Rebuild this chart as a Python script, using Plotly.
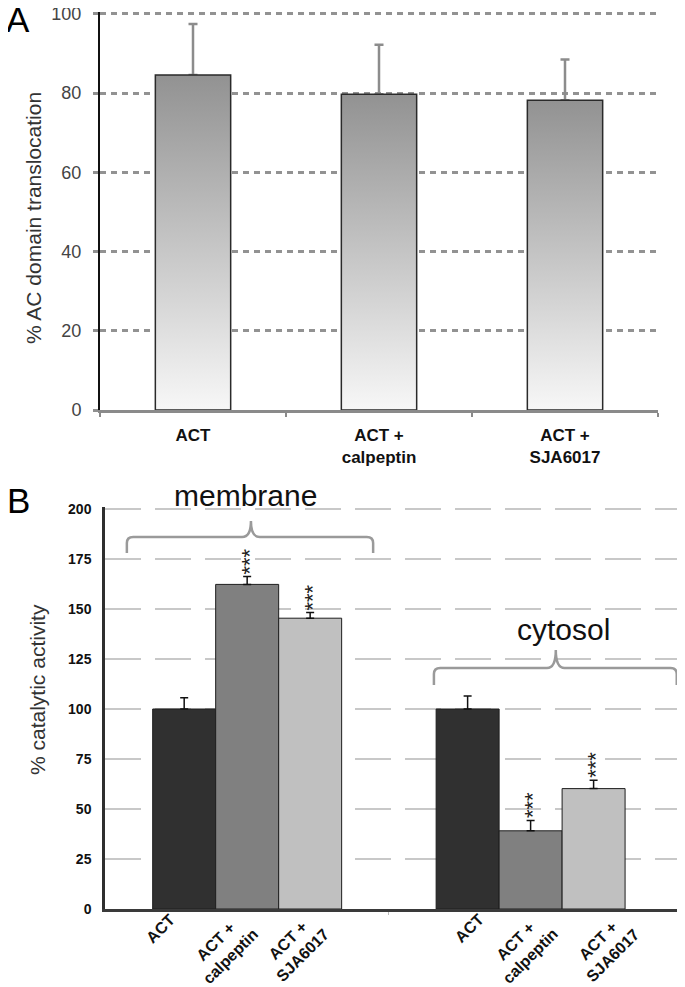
import plotly.graph_objects as go

# the page body puts the figure 8px in from the top-left corner of the window
PAGE_W, PAGE_H, BODY = 685, 987, 8
W, H = PAGE_W - BODY, PAGE_H - BODY
FONT = "Liberation Sans, Arial, sans-serif"

# ---- panel A data ----
a_labels = ["ACT", "ACT +<br>calpeptin", "ACT +<br>SJA6017"]
a_values = [84.6, 79.7, 78.2]
a_errors = [12.9, 12.5, 10.3]

# ---- panel B data ----
b_groups = ["membrane", "cytosol"]
b_treatments = ["ACT", "ACT +<br>calpeptin", "ACT +<br>SJA6017"]
b_colors = ["#303030", "#808080", "#c0c0c0"]
b_membrane = [100, 162.3, 145.4]
b_membrane_err = [5.6, 4.0, 2.9]
b_cytosol = [100, 39.1, 60.2]
b_cytosol_err = [6.5, 5.2, 4.2]
b_stars = ["", "***", "***"]


def px_x(p):
    return min(1.0, max(0.0, (p - BODY) / W))


def px_y(p):
    return min(1.0, max(0.0, 1 - (p - BODY) / H))


fig = go.Figure()

# ---------------- panel A ----------------
A_BAR_W = 0.405
a_x = list(range(len(a_labels)))

# error bars (transparent bars carry them)
fig.add_trace(go.Bar(
    x=a_x, y=a_values, width=A_BAR_W,
    marker=dict(color="rgba(0,0,0,0)", line=dict(width=0)),
    error_y=dict(type="data", symmetric=False, array=a_errors,
                 arrayminus=[0] * len(a_values),
                 color="#8c8c8c", thickness=2.5, width=4.5),
    xaxis="x", yaxis="y", showlegend=False, hoverinfo="skip",
))

# gradient-filled bars
for xi, v in zip(a_x, a_values):
    x0, x1 = xi - A_BAR_W / 2, xi + A_BAR_W / 2
    fig.add_trace(go.Scatter(
        x=[x0, x0, x1, x1, x0], y=[0, v, v, 0, 0],
        mode="lines", fill="toself",
        fillgradient=dict(type="vertical",
                          colorscale=[[0, "#f7f7f7"], [1, "#929292"]]),
        line=dict(color="#2a2a2a", width=1.5),
        xaxis="x", yaxis="y", showlegend=False, hoverinfo="skip",
    ))

# ---------------- panel B ----------------
GROUP_STEP = 4.5
for i, (name, col) in enumerate(zip(b_treatments, b_colors)):
    vals = [b_membrane[i], b_cytosol[i]]
    errs = [b_membrane_err[i], b_cytosol_err[i]]
    xs = [g * GROUP_STEP + i for g in range(len(b_groups))]
    fig.add_trace(go.Bar(
        x=xs, y=vals, width=1.0, name=name,
        marker=dict(color=col, line=dict(color="#1e1e1e", width=1)),
        error_y=dict(type="data", symmetric=False, array=errs,
                     arrayminus=[0, 0], color="#111111",
                     thickness=1.5, width=4),
        xaxis="x2", yaxis="y2", showlegend=False,
    ))

# significance stars
for g, (vals, errs) in enumerate([(b_membrane, b_membrane_err),
                                  (b_cytosol, b_cytosol_err)]):
    for i, s in enumerate(b_stars):
        if not s:
            continue
        fig.add_annotation(
            x=g * GROUP_STEP + i, y=vals[i] + errs[i], xref="x2", yref="y2",
            text=s, textangle=-90, showarrow=False,
            xanchor="center", yanchor="bottom", xshift=2, yshift=0,
            font=dict(family=FONT, size=22, color="#222222"),
        )

# rotated category labels under panel B (centred lines, like the original)
b_label_shift = [[-3, 17, 25], [22, 33, 52]]
for g in range(len(b_groups)):
    for i, lab in enumerate(b_treatments):
        fig.add_annotation(
            x=g * GROUP_STEP + i, y=0, xref="x2", yref="y2",
            text=lab, textangle=-45, showarrow=False, align="center",
            xanchor="right", yanchor="top",
            xshift=b_label_shift[g][i], yshift=1,
            font=dict(family=FONT, size=16, color="#111111", weight="bold"),
        )


# braces over the groups
def brace(x0, x1, xm, y_line, y_end, y_tip, dx=0.1, dy=3.0):
    return (f"M {x0} {y_end} L {x0} {y_line - dy} "
            f"Q {x0} {y_line} {x0 + dx} {y_line} "
            f"L {xm - 1.4 * dx} {y_line} "
            f"Q {xm} {y_line} {xm} {y_tip} "
            f"Q {xm} {y_line} {xm + 1.4 * dx} {y_line} "
            f"L {x1 - dx} {y_line} "
            f"Q {x1} {y_line} {x1} {y_line - dy} L {x1} {y_end}")


brace_style = dict(type="path", xref="x2", yref="y2",
                   line=dict(color="#9a9a9a", width=2.5))
fig.add_shape(path=brace(-0.91, 3.0, 1.06, 186, 178, 194), **brace_style)
fig.add_shape(path=brace(3.965, 7.82, 5.9, 120.5, 112, 129.5), **brace_style)

fig.add_annotation(x=0.98, y=197.5, xref="x2", yref="y2", text="membrane",
                   showarrow=False, xanchor="center", yanchor="bottom",
                   font=dict(family=FONT, size=30, color="#111111"))
fig.add_annotation(x=6.03, y=130.5, xref="x2", yref="y2", text="cytosol",
                   showarrow=False, xanchor="center", yanchor="bottom",
                   font=dict(family=FONT, size=30, color="#111111"))

# panel letters and axis titles
for txt, x, y in [("A", 18, 20), ("B", 18, 501)]:
    fig.add_annotation(x=px_x(x), y=px_y(y), xref="paper", yref="paper",
                       text=txt, showarrow=False, xanchor="center",
                       yanchor="middle",
                       font=dict(family=FONT, size=35, color="#000000"))
for txt, x, y in [("% AC domain translocation", 33, 218),
                  ("% catalytic activity", 37, 690)]:
    fig.add_annotation(x=px_x(x), y=px_y(y), xref="paper", yref="paper",
                       text=txt, showarrow=False, textangle=-90,
                       xanchor="center", yanchor="middle",
                       font=dict(family=FONT, size=21, color="#333333"))

fig.update_layout(
    width=W, height=H,
    margin=dict(l=0, r=0, t=0, b=0),
    paper_bgcolor="white", plot_bgcolor="white",
    barmode="overlay", showlegend=False,
    font=dict(family=FONT),
    xaxis=dict(
        domain=[px_x(100), px_x(658)], range=[-0.5, 2.5],
        tickvals=a_x, ticktext=a_labels, ticks="",
        tickfont=dict(family=FONT, size=17, color="#111111", weight="bold"),
        showline=True, linecolor="#8a8a8a", linewidth=2.5,
        showgrid=False, zeroline=False, ticklabelstandoff=8,
        minor=dict(tickvals=[-0.5, 0.5, 1.5, 2.5], ticks="outside",
                   ticklen=4, tickcolor="#8a8a8a", tickwidth=2),
        automargin=False, anchor="y",
    ),
    yaxis=dict(
        domain=[px_y(410), px_y(12)], range=[0, 100.5],
        tickvals=[0, 20, 40, 60, 80, 100],
        tickfont=dict(family=FONT, size=18, color="#444444"),
        ticks="outside", ticklen=5, tickcolor="#909090", tickwidth=3,
        ticklabelstandoff=8, ticklabeloverflow="allow",
        showline=True, linecolor="#111111", linewidth=2,
        showgrid=True, gridcolor="#929292", gridwidth=3, griddash="6px,5px",
        zeroline=False, automargin=False, anchor="x",
    ),
    xaxis2=dict(
        domain=[px_x(105), px_x(678)], range=[-1.257, 7.84],
        tickvals=[], showticklabels=False, ticks="",
        showline=True, linecolor="#3a3a3a", linewidth=2.5,
        showgrid=False, zeroline=False,
        minor=dict(tickvals=[3.25], ticks="outside", ticklen=3,
                   tickcolor="#bbbbbb", tickwidth=1),
        automargin=False, anchor="y2",
    ),
    yaxis2=dict(
        domain=[px_y(909), px_y(507)], range=[0, 201],
        tickvals=[0, 25, 50, 75, 100, 125, 150, 175, 200],
        tickfont=dict(family=FONT, size=14, color="#111111", weight="bold"),
        ticks="", ticklabelstandoff=8, ticklabeloverflow="allow",
        showline=True, linecolor="#2e2e2e", linewidth=2.5,
        showgrid=True, gridcolor="#c8c8c8", gridwidth=1.5,
        griddash="36px,14px", zeroline=False, automargin=False, anchor="x2",
    ),
)

fig.write_html("out.html")
